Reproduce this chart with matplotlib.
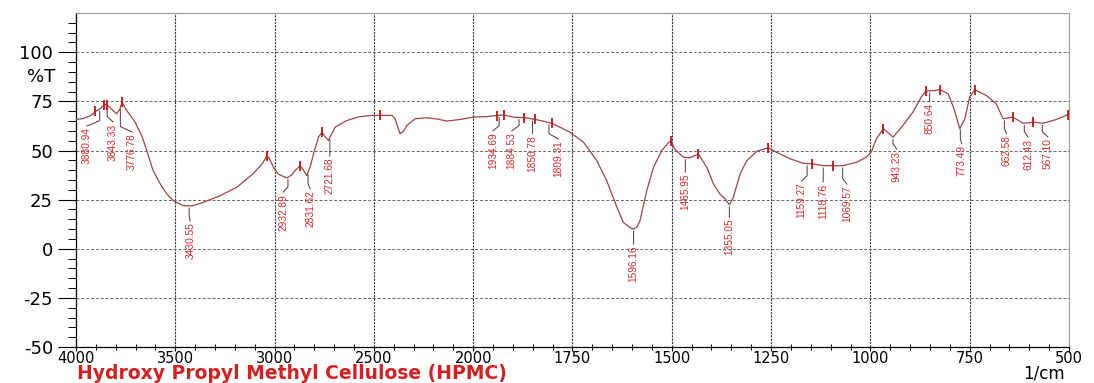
import matplotlib
matplotlib.use("Agg")
import matplotlib.pyplot as plt
import matplotlib.transforms as mtransforms
import numpy as np

# spectrum (wavenumber 1/cm, %T)
wavenumber = [4000, 3965, 3930, 3913, 3904, 3890, 3879, 3862, 3849, 3835, 3815, 3795,
              3780, 3768, 3755, 3735, 3720, 3700, 3688, 3669, 3644, 3612, 3577, 3543,
              3510, 3461, 3430, 3410, 3360, 3275, 3190, 3108, 3060, 3039, 3030, 3006,
              2982, 2960, 2938, 2915, 2897, 2872, 2855, 2838, 2820, 2804, 2779, 2762,
              2745, 2729, 2715, 2695, 2660, 2636, 2569, 2504, 2410, 2393, 2380, 2368,
              2350, 2334, 2292, 2233, 2180, 2133, 2066, 2000, 1966, 1936, 1924, 1899,
              1869, 1840, 1802, 1756, 1722, 1689, 1664, 1638, 1622, 1605, 1597, 1588,
              1580, 1563, 1546, 1525, 1508, 1502, 1492, 1471, 1454, 1433, 1412, 1395,
              1379, 1366, 1355, 1345, 1328, 1311, 1286, 1257, 1236, 1202, 1169, 1144,
              1119, 1069, 1035, 1010, 997, 985, 967, 955, 943, 918, 893, 872, 860, 840,
              825, 804, 788, 775, 762, 750, 737, 708, 683, 666, 655, 641, 616, 587, 566,
              533, 500]
transmittance = [65.8, 66.3, 67.6, 68.7, 70.0, 70.5, 71.3, 73.0, 73.5, 72.5, 70.5, 68.7,
                 71.0, 74.6, 72.0, 69.0, 67.0, 64.0, 61.2, 57.6, 50.0, 39.8, 33.2, 27.9,
                 24.5, 22.0, 21.8, 22.0, 23.6, 27.0, 31.3, 38.3, 43.5, 47.4, 46.5, 41.5,
                 38.1, 37.0, 36.1, 37.5, 39.8, 42.3, 40.0, 37.2, 42.0, 48.3, 56.8, 59.3,
                 57.0, 55.1, 58.0, 61.9, 64.0, 65.3, 67.3, 67.9, 67.9, 66.2, 62.0, 58.5,
                 60.0, 62.8, 66.2, 66.7, 66.0, 65.0, 65.8, 67.0, 67.3, 67.9, 68.2, 67.0,
                 66.7, 65.7, 63.9, 59.3, 54.2, 44.9, 34.7, 21.1, 13.4, 10.8, 10.0, 11.0,
                 14.3, 29.6, 41.5, 50.0, 54.2, 54.8, 50.5, 46.6, 46.3, 48.3, 41.5, 33.0,
                 27.9, 25.4, 22.4, 26.2, 38.1, 44.9, 49.6, 51.4, 49.1, 45.8, 43.5, 43.2,
                 42.3, 42.3, 44.0, 46.6, 49.5, 56.0, 61.1, 59.0, 56.8, 62.8, 69.5, 77.2,
                 80.3, 80.5, 81.0, 78.9, 70.4, 61.1, 66.2, 77.2, 81.0, 78.0, 73.8, 66.2,
                 66.5, 67.0, 63.9, 64.4, 63.9, 65.7, 68.5]

# labelled peaks
peak_labels = ["3880.94", "3843.33", "3776.78", "3430.55", "2932.89", "2831.62",
               "2721.68", "1934.69", "1884.53", "1850.78", "1809.31", "1596.16",
               "1465.95", "1355.05", "1159.27", "1118.76", "1069.57", "943.23",
               "850.64", "773.49", "662.58", "612.43", "567.10"]
# where each label sits (x in 1/cm, top of text in %T)
label_x = [3945, 3814, 3719, 3425, 2957, 2821, 2722, 1950, 1903, 1851, 1786, 1596,
           1466, 1355, 1173, 1119, 1059, 934, 851, 770, 657, 603, 553]
label_top = [61.7, 63.8, 58.7, 13.3, 28.0, 29.6, 46.4, 59.2, 59.2, 57.7, 55.1, 1.5,
             38.3, 15.3, 33.7, 33.2, 32.1, 50.0, 74.0, 52.6, 57.7, 56.1, 56.1]

# small red tick marks on the trace
mark_wn = [3904, 3857, 3842, 3768, 3039, 2872, 2762, 2468, 1940, 1922, 1872, 1844,
           1802, 1502, 1433, 1257, 1147, 1093, 967, 860, 825, 737, 641, 590, 503]


def fwd(x):
    x = np.asarray(x, dtype=float)
    return np.where(x > 2000, 2000 + (x - 2000) / 2.0, x)


def inv(t):
    t = np.asarray(t, dtype=float)
    return np.where(t > 2000, 2000 + (t - 2000) * 2.0, t)


def trace_at(w):
    return np.interp(w, wavenumber[::-1], transmittance[::-1])


fig = plt.figure(figsize=(10.94, 3.83), dpi=100)
ax = fig.add_axes([0.0695, 0.094, 0.9076, 0.872])
ax.set_xscale("function", functions=(fwd, inv))
ax.set_xlim(4000, 500)
ax.set_ylim(-50, 120)

curve_col = "#9a4545"
label_col = "#d42a2a"

ax.plot(wavenumber, transmittance, color=curve_col, lw=0.9, zorder=3)
ax.plot(mark_wn, trace_at(mark_wn), ls="none", marker="|", ms=7, mew=1.3,
        color="#c81010", zorder=4)

for txt, lx, ly in zip(peak_labels, label_x, label_top):
    w = float(txt)
    yc = trace_at(w)
    ax.plot([w, w, lx], [yc - 1.2, ly + 3.5, ly + 0.8], color="#5a3030", lw=0.7,
            zorder=3)
    ax.text(lx, ly, txt, rotation=90, ha="center", va="top", color=label_col,
            fontsize=7.3, family=["Liberation Sans", "DejaVu Sans"])

# grid
for xv in [3500, 3000, 2500, 2000, 1750, 1500, 1250, 1000, 750]:
    ax.axvline(xv, color="#333333", lw=0.8, ls=(0, (2, 1)), zorder=1)
for yv in [100, 75, 50, 25, 0, -25]:
    ax.axhline(yv, color="#666666", lw=0.7, ls=(0, (3, 2)), zorder=1)

ax.set_xticks([4000, 3500, 3000, 2500, 2000, 1750, 1500, 1250, 1000, 750, 500])
ax.set_xticks(list(range(3900, 2000, -100)) + list(range(1950, 500, -50)), minor=True)
ax.set_yticks([-50, -25, 0, 25, 50, 75, 100])
ax.set_yticks(np.arange(-45, 120, 5), minor=True)
ax.set_yticklabels(["-50", "-25", "0", "25", "50", "75", "100"])
ax.set_xticklabels(["4000", "3500", "3000", "2500", "2000", "1750", "1500", "1250",
                    "1000", "750", "500"])

ax.tick_params(axis="y", which="major", length=13, width=0.8, pad=3.5, labelsize=13)
ax.tick_params(axis="y", which="minor", length=6, width=0.7)
ax.tick_params(axis="x", which="major", length=3, width=0.8, pad=0, labelsize=10.5)
ax.tick_params(axis="x", which="minor", length=4, width=0.7, direction="inout")

for s in ["top", "right"]:
    ax.spines[s].set_color("#999999")
    ax.spines[s].set_linewidth(0.8)
for s in ["left", "bottom"]:
    ax.spines[s].set_linewidth(0.9)

tr = mtransforms.blended_transform_factory(ax.transAxes, ax.transData)
ax.text(-0.021, 87.5, "%T", transform=tr, ha="right", va="center", fontsize=13)

fig.text(0.0704, 0.010, "Hydroxy Propyl Methyl Cellulose (HPMC)", color="#d42020",
         fontsize=13.5, fontweight="bold", ha="left", va="baseline")
fig.text(0.9735, 0.012, "1/cm", fontsize=12, ha="right", va="baseline")

fig.savefig("out.png", dpi=100)
